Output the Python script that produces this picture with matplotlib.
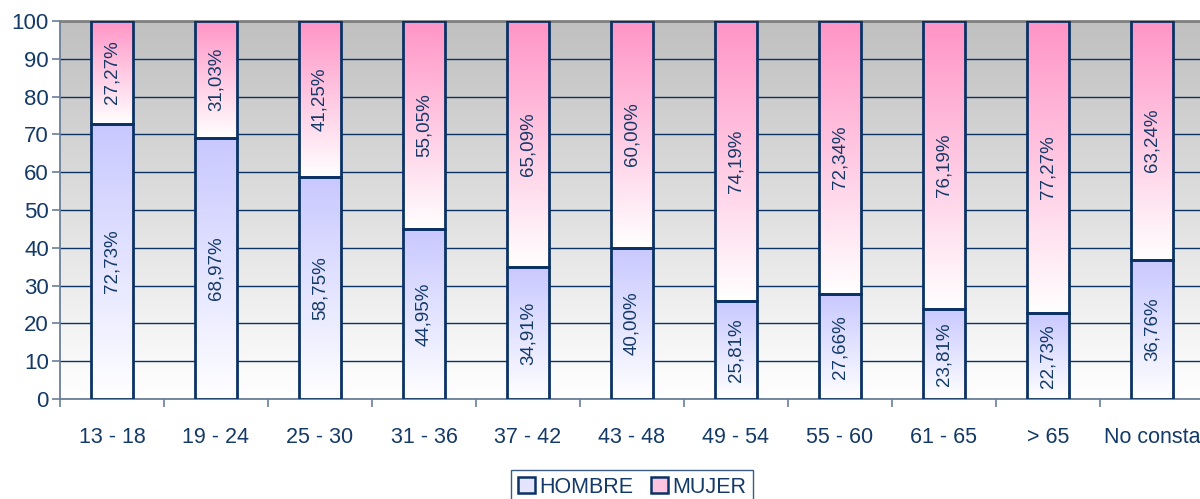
import numpy as np
import matplotlib.pyplot as plt
from matplotlib.colors import LinearSegmentedColormap
from matplotlib.patches import Patch

plt.rcParams['font.family'] = ['Liberation Sans', 'DejaVu Sans']

# --- Datos ---
categorias = ["13 - 18", "19 - 24", "25 - 30", "31 - 36", "37 - 42", "43 - 48",
              "49 - 54", "55 - 60", "61 - 65", "> 65", "No consta"]
hombre = [72.73, 68.97, 58.75, 44.95, 34.91, 40.00, 25.81, 27.66, 23.81, 22.73, 36.76]
mujer = [27.27, 31.03, 41.25, 55.05, 65.09, 60.00, 74.19, 72.34, 76.19, 77.27, 63.24]

navy = "#0b3264"
texto = "#143a68"

fig = plt.figure(figsize=(12, 4.99), dpi=100)
ax = fig.add_axes([0.05, 0.2004, 0.9533, 0.7575])

# fondo degradado gris -> blanco
fondo = LinearSegmentedColormap.from_list("fondo", ["#ffffff", "#c0c0c0"])
grad = np.linspace(0, 1, 256).reshape(-1, 1)
ax.imshow(grad, cmap=fondo, origin="lower", extent=[0, 1, 0, 1],
          transform=ax.transAxes, aspect="auto", zorder=0)

x = np.arange(len(categorias))
ancho = 0.4
b1 = ax.bar(x, hombre, ancho, facecolor="none", edgecolor=navy, linewidth=2.0, zorder=4)
b2 = ax.bar(x, mujer, ancho, bottom=hombre, facecolor="none", edgecolor=navy,
            linewidth=2.0, zorder=4)

cm_h = LinearSegmentedColormap.from_list("h", ["#ffffff", "#c8c8ff"])
cm_m = LinearSegmentedColormap.from_list("m", ["#ffffff", "#ff94c6"])

# relleno degradado de cada segmento
for barras, cmap in ((b1, cm_h), (b2, cm_m)):
    for p in barras:
        x0, y0 = p.get_x(), p.get_y()
        w, h = p.get_width(), p.get_height()
        ax.imshow(grad, cmap=cmap, origin="lower", extent=[x0, x0 + w, y0, y0 + h],
                  aspect="auto", zorder=3)

# etiquetas de porcentaje
for i in range(len(categorias)):
    for base, v in ((0, hombre[i]), (hombre[i], mujer[i])):
        ax.text(x[i], base + v / 2, f"{v:.2f}".replace(".", ",") + "%",
                rotation=90, ha="center", va="center", fontsize=13.5, color=texto, zorder=5)

ax.set_xlim(-0.5, len(categorias) - 0.5)
ax.set_ylim(0, 100)
ax.set_yticks(range(0, 101, 10))
ax.yaxis.grid(True, color=navy, linewidth=1.0, zorder=1)
ax.set_axisbelow(True)

ax.set_xticks(x)
ax.set_xticklabels(categorias)
ax.set_xticks(np.arange(-0.5, len(categorias), 1), minor=True)
ax.tick_params(axis="x", which="major", length=0, pad=20, labelsize=15.5, labelcolor=texto)
ax.tick_params(axis="x", which="minor", length=6, color="#6a7f99", width=1.2)
ax.tick_params(axis="y", length=6, color="#6a7f99", width=1.2, pad=2,
               labelsize=16, labelcolor=texto)

for lado in ("left", "bottom"):
    ax.spines[lado].set_color("#6a7f99")
    ax.spines[lado].set_linewidth(1.3)
ax.spines["top"].set_color("#808080")
ax.spines["top"].set_linewidth(2)
ax.spines["right"].set_visible(False)

handles = [Patch(facecolor="#e4e4ff", edgecolor=navy, linewidth=1.8, label="HOMBRE"),
           Patch(facecolor="#ffc4e0", edgecolor=navy, linewidth=1.8, label="MUJER")]
leg = ax.legend(handles=handles, loc="upper center", bbox_to_anchor=(0.5, -0.188),
                ncol=2, frameon=True, fancybox=False, fontsize=15.5, handlelength=0.8,
                handleheight=0.8, handletextpad=0.2, columnspacing=0.8,
                borderpad=0.3, borderaxespad=0)
leg.get_frame().set_edgecolor(navy)
leg.get_frame().set_linewidth(1.0)
for t in leg.get_texts():
    t.set_color(texto)

fig.savefig("out.png", dpi=100)
